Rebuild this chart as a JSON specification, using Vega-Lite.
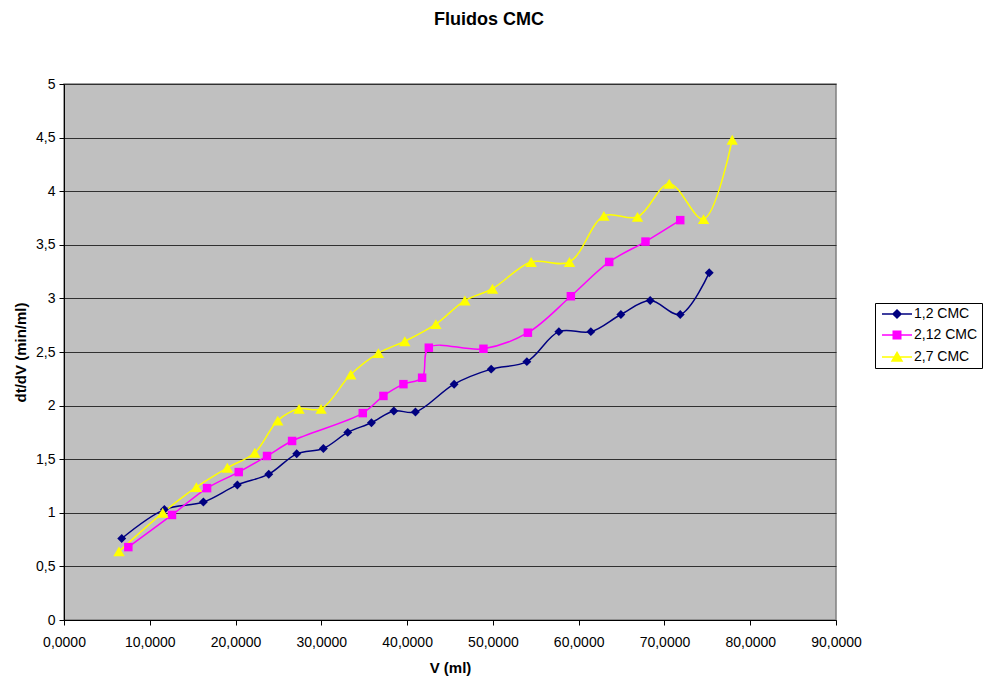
{
  "$schema": "https://vega.github.io/schema/vega-lite/v6.json",
  "autosize": {"type": "none"},
  "width": 772,
  "height": 536,
  "padding": {"left": 64, "top": 84, "right": 151, "bottom": 57},
  "background": "white",
  "config": {
    "font": "Liberation Sans",
    "view": {"fill": "#C0C0C0", "stroke": "#808080", "strokeWidth": 1.5}
  },
  "title": {
    "text": "Fluidos CMC",
    "fontSize": 18,
    "fontWeight": "bold",
    "font": "Liberation Sans",
    "color": "black",
    "anchor": "middle",
    "frame": "group",
    "dx": 39,
    "baseline": "alphabetic",
    "offset": 34
  },
  "data": {
    "values": [
      {"serie": "1,2 CMC", "V": 6.73, "y": 0.76},
      {"serie": "1,2 CMC", "V": 11.70, "y": 1.03},
      {"serie": "1,2 CMC", "V": 16.25, "y": 1.10},
      {"serie": "1,2 CMC", "V": 20.21, "y": 1.26},
      {"serie": "1,2 CMC", "V": 23.87, "y": 1.36},
      {"serie": "1,2 CMC", "V": 27.13, "y": 1.55},
      {"serie": "1,2 CMC", "V": 30.24, "y": 1.60},
      {"serie": "1,2 CMC", "V": 33.08, "y": 1.75},
      {"serie": "1,2 CMC", "V": 35.84, "y": 1.84},
      {"serie": "1,2 CMC", "V": 38.45, "y": 1.95},
      {"serie": "1,2 CMC", "V": 40.97, "y": 1.94},
      {"serie": "1,2 CMC", "V": 45.48, "y": 2.20},
      {"serie": "1,2 CMC", "V": 49.80, "y": 2.34},
      {"serie": "1,2 CMC", "V": 53.96, "y": 2.41},
      {"serie": "1,2 CMC", "V": 57.69, "y": 2.69},
      {"serie": "1,2 CMC", "V": 61.42, "y": 2.69},
      {"serie": "1,2 CMC", "V": 64.92, "y": 2.85},
      {"serie": "1,2 CMC", "V": 68.34, "y": 2.98},
      {"serie": "1,2 CMC", "V": 71.84, "y": 2.85},
      {"serie": "1,2 CMC", "V": 75.22, "y": 3.24},
      {"serie": "2,12 CMC", "V": 7.50, "y": 0.68},
      {"serie": "2,12 CMC", "V": 12.59, "y": 0.98},
      {"serie": "2,12 CMC", "V": 16.68, "y": 1.23},
      {"serie": "2,12 CMC", "V": 20.37, "y": 1.38},
      {"serie": "2,12 CMC", "V": 23.67, "y": 1.53},
      {"serie": "2,12 CMC", "V": 26.59, "y": 1.67},
      {"serie": "2,12 CMC", "V": 34.83, "y": 1.93},
      {"serie": "2,12 CMC", "V": 37.24, "y": 2.09},
      {"serie": "2,12 CMC", "V": 39.57, "y": 2.20},
      {"serie": "2,12 CMC", "V": 41.75, "y": 2.26},
      {"serie": "2,12 CMC", "V": 42.53, "y": 2.54},
      {"serie": "2,12 CMC", "V": 48.90, "y": 2.53},
      {"serie": "2,12 CMC", "V": 54.08, "y": 2.68},
      {"serie": "2,12 CMC", "V": 59.09, "y": 3.02},
      {"serie": "2,12 CMC", "V": 63.56, "y": 3.34},
      {"serie": "2,12 CMC", "V": 67.79, "y": 3.53},
      {"serie": "2,12 CMC", "V": 71.84, "y": 3.73},
      {"serie": "2,7 CMC", "V": 6.41, "y": 0.64},
      {"serie": "2,7 CMC", "V": 11.51, "y": 1.00},
      {"serie": "2,7 CMC", "V": 15.43, "y": 1.24},
      {"serie": "2,7 CMC", "V": 19.04, "y": 1.42},
      {"serie": "2,7 CMC", "V": 22.24, "y": 1.56},
      {"serie": "2,7 CMC", "V": 24.92, "y": 1.86},
      {"serie": "2,7 CMC", "V": 27.40, "y": 1.97},
      {"serie": "2,7 CMC", "V": 29.97, "y": 1.97},
      {"serie": "2,7 CMC", "V": 33.43, "y": 2.29},
      {"serie": "2,7 CMC", "V": 36.65, "y": 2.49},
      {"serie": "2,7 CMC", "V": 39.73, "y": 2.60},
      {"serie": "2,7 CMC", "V": 43.35, "y": 2.76},
      {"serie": "2,7 CMC", "V": 46.73, "y": 2.98},
      {"serie": "2,7 CMC", "V": 49.95, "y": 3.09},
      {"serie": "2,7 CMC", "V": 54.46, "y": 3.34},
      {"serie": "2,7 CMC", "V": 58.93, "y": 3.34},
      {"serie": "2,7 CMC", "V": 62.94, "y": 3.77},
      {"serie": "2,7 CMC", "V": 66.86, "y": 3.76},
      {"serie": "2,7 CMC", "V": 70.56, "y": 4.07},
      {"serie": "2,7 CMC", "V": 74.56, "y": 3.74},
      {"serie": "2,7 CMC", "V": 77.90, "y": 4.48}
    ]
  },
  "encoding": {
    "x": {
      "field": "V",
      "type": "quantitative",
      "scale": {"domain": [0, 90], "nice": false, "zero": true},
      "axis": {
        "title": "V (ml)",
        "values": [0, 10, 20, 30, 40, 50, 60, 70, 80, 90],
        "labelExpr": "replace(format(datum.value, '.4f'), '.', ',')",
        "labelFlush": false,
        "labelOverlap": false,
        "grid": false,
        "domainColor": "black",
        "domainWidth": 1,
        "tickColor": "black",
        "tickSize": 5,
        "labelPadding": 10,
        "labelFontSize": 14,
        "labelColor": "black",
        "labelFont": "Liberation Sans",
        "titleFont": "Liberation Sans",
        "titleFontSize": 15,
        "titleFontWeight": "bold",
        "titleColor": "black",
        "titleBaseline": "alphabetic",
        "titleY": 52
      }
    },
    "y": {
      "field": "y",
      "type": "quantitative",
      "scale": {"domain": [0, 5], "nice": false},
      "axis": {
        "title": "dt/dV (min/ml)",
        "values": [0, 0.5, 1, 1.5, 2, 2.5, 3, 3.5, 4, 4.5, 5],
        "labelExpr": "replace(format(datum.value, '.1~f'), '.', ',')",
        "labelOverlap": false,
        "grid": true,
        "gridColor": "#303030",
        "gridWidth": 1,
        "domainColor": "black",
        "domainWidth": 1,
        "tickColor": "black",
        "tickSize": 5,
        "labelPadding": 4,
        "labelFontSize": 14,
        "labelColor": "black",
        "labelFont": "Liberation Sans",
        "titleFont": "Liberation Sans",
        "titleFontSize": 15,
        "titleFontWeight": "bold",
        "titleColor": "black",
        "titleAngle": -90,
        "titleAlign": "center",
        "titleBaseline": "middle",
        "titleX": -44,
        "titleY": 268
      }
    },
    "color": {
      "field": "serie",
      "type": "nominal",
      "scale": {
        "domain": ["1,2 CMC", "2,12 CMC", "2,7 CMC"],
        "range": ["#000080", "#FF00FF", "#FFFF00"]
      },
      "legend": {
        "title": null,
        "orient": "none",
        "legendX": 811,
        "legendY": 219,
        "fillColor": "white",
        "strokeColor": "black",
        "padding": 4,
        "rowPadding": 7,
        "symbolSize": 100,
        "symbolOffset": 11,
        "labelOffset": 10,
        "labelFontSize": 14,
        "labelFont": "Liberation Sans",
        "labelColor": "black",
        "encode": {
          "symbols": {
            "update": {
              "shape": {"signal": "datum.value === '1,2 CMC' ? 'M-3,0H3M0,-0.8L0.8,0L0,0.8L-0.8,0Z' : datum.value === '2,12 CMC' ? 'M-3,0H3M-0.75,-0.75H0.75V0.75H-0.75Z' : 'M-3,0H3M0,-0.9L1,0.8H-1Z'"},
              "fill": {"signal": "scale('color', datum.value)"},
              "stroke": {"signal": "scale('color', datum.value)"},
              "strokeWidth": {"value": 1.5},
              "opacity": {"value": 1},
              "fillOpacity": {"value": 1},
              "strokeOpacity": {"value": 1}
            }
          }
        }
      }
    }
  },
  "layer": [
    {
      "mark": {"type": "line", "interpolate": "catmull-rom", "strokeWidth": 1.5}
    },
    {
      "transform": [{"filter": "datum.serie === '1,2 CMC'"}],
      "mark": {"type": "point", "filled": true, "opacity": 1, "shape": "diamond", "size": 80}
    },
    {
      "transform": [{"filter": "datum.serie === '2,12 CMC'"}],
      "mark": {"type": "point", "filled": true, "opacity": 1, "shape": "square", "size": 72}
    },
    {
      "transform": [{"filter": "datum.serie === '2,7 CMC'"}],
      "mark": {"type": "point", "filled": true, "opacity": 1, "shape": "triangle-up", "size": 130}
    }
  ]
}
